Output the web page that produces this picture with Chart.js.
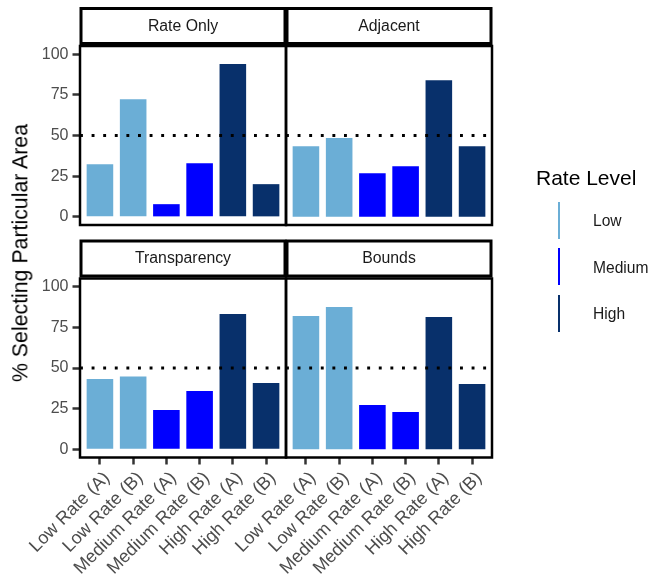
<!DOCTYPE html>
<html><head><meta charset="utf-8">
<script src="https://cdn.jsdelivr.net/npm/chart.js@4.4.0/dist/chart.umd.min.js"></script>
<style>
html,body{margin:0;padding:0;background:#fff;}
#wrap{position:relative;width:652px;height:584px;overflow:hidden;font-family:"Liberation Sans",Arial,sans-serif;}
canvas{position:absolute;left:0;top:0;}
#ytitle{position:absolute;left:21px;top:252.5px;transform:translate(-50%,-50%) rotate(-90deg);white-space:nowrap;font-size:21.3px;line-height:1;color:#000;}
.lg{position:absolute;white-space:nowrap;line-height:1;}
</style></head>
<body><div id="wrap">
<canvas id="c0" width="652" height="584"></canvas>
<canvas id="c1" width="652" height="584"></canvas>
<canvas id="c2" width="652" height="584"></canvas>
<canvas id="c3" width="652" height="584"></canvas>
<div id="ytitle">% Selecting Particular Area</div>
<div id="legend"></div>
</div>
<script>
const categories = ["Low Rate (A)","Low Rate (B)","Medium Rate (A)","Medium Rate (B)","High Rate (A)","High Rate (B)"];
const barLevels = ["Low","Low","Medium","Medium","High","High"];
const levels = ["Low","Medium","High"];
const levelColors = ["#6BAED6","#0000FF","#08306B"];
const panels = ["Rate Only","Adjacent","Transparency","Bounds"];
const rateOnly = [32.4,72.3,7.8,33.0,93.9,20.1];
const adjacent = [43.4,48.4,26.8,31.1,84.0,43.4];
const transparency = [43.2,44.7,24.2,35.9,83.2,40.8];
const bounds = [82.0,87.5,27.3,22.9,81.4,40.2];
const panelValues = [rateOnly, adjacent, transparency, bounds];
const yTicks = [0,25,50,75,100];
const refLine = 50;

const FONT = '"Liberation Sans", Arial, sans-serif';
const layouts = [
  {pad:{left:20, top:46, right:366, bottom:359}, showY:true, showX:false},
  {pad:{left:286, top:46, right:160, bottom:359}, showY:false, showX:false},
  {pad:{left:20, top:278.5, right:366, bottom:6.5}, showY:true, showX:true},
  {pad:{left:286, top:278.5, right:160, bottom:6.5}, showY:false, showX:true}
];

const decor = {
  id:'decor',
  afterDatasetsDraw(chart){
    const {ctx, chartArea:a, scales:{y}} = chart;
    const py = y.getPixelForValue(refLine);
    ctx.save();
    ctx.strokeStyle = '#000'; ctx.lineWidth = 2.9; ctx.setLineDash([2.9, 8.7]);
    ctx.beginPath(); ctx.moveTo(a.left, py); ctx.lineTo(a.right, py); ctx.stroke();
    ctx.restore();
  },
  afterDraw(chart, args, opts){
    const {ctx, chartArea:a} = chart;
    ctx.save();
    ctx.strokeStyle = '#000'; ctx.lineWidth = 2.5;
    ctx.strokeRect(a.left, a.top, a.right - a.left, a.bottom - a.top);
    const sx = a.left + 1, sw = a.right - a.left - 2, sy = a.top - 37.5, sh = 35;
    ctx.fillStyle = '#fff'; ctx.fillRect(sx, sy, sw, sh);
    ctx.lineWidth = 3; ctx.strokeRect(sx, sy, sw, sh);
    ctx.fillStyle = '#1A1A1A'; ctx.font = '15.8px ' + FONT;
    ctx.textAlign = 'center'; ctx.textBaseline = 'middle';
    ctx.fillText(opts.title, sx + sw/2, sy + sh/2 + 0.5);
    ctx.restore();
  }
};

panels.forEach((name, p) => {
  const L = layouts[p];
  const vals = panelValues[p];
  new Chart(document.getElementById('c' + p), {
    type:'bar',
    data:{datasets:[{
      data: vals.map((v,i)=>({x:i+1, y:v})),
      backgroundColor: barLevels.map(l => levelColors[levels.indexOf(l)]),
      borderWidth:0, barPercentage:1, categoryPercentage:0.8
    }]},
    options:{
      responsive:false, animation:false, events:[],
      layout:{padding:L.pad},
      plugins:{legend:{display:false}, tooltip:{enabled:false}, decor:{title:name}},
      scales:{
        x:{type:'linear', min:0.4, max:6.6, display:L.showX, offset:false,
          afterBuildTicks:s => { s.ticks = categories.map((c,i)=>({value:i+1})); },
          afterFit:s => { if (L.showX) s.height = 120; s.paddingLeft = 0; s.paddingRight = 0; },
          ticks:{autoSkip:false, minRotation:45, maxRotation:45, padding:3, labelOffset:7, color:'#4D4D4D',
            font:{family:FONT, size:18}, callback:v => categories[v-1]},
          grid:{offset:false, drawOnChartArea:false, drawTicks:true, tickLength:7, tickColor:'#333', tickWidth:2.5},
          border:{display:false}
        },
        y:{type:'linear', min:-5, max:105, display:L.showY,
          afterBuildTicks:s => { s.ticks = yTicks.map(v=>({value:v})); },
          afterFit:s => { if (L.showY) s.width = 60; s.paddingTop = 0; s.paddingBottom = 0; },
          ticks:{padding:4, color:'#4D4D4D', font:{family:FONT, size:16}},
          grid:{offset:false, drawOnChartArea:false, drawTicks:true, tickLength:7.5, tickColor:'#333', tickWidth:2.5},
          border:{display:false}
        }
      }
    },
    plugins:[decor]
  });
});

// legend built from the level arrays
const leg = document.getElementById('legend');
const title = document.createElement('div');
title.className = 'lg'; title.textContent = 'Rate Level';
title.style.cssText = 'left:536px;top:167.2px;font-size:21px;color:#000;';
leg.appendChild(title);
levels.forEach((l, i) => {
  const cy = 220.5 + i * 46.3;
  const key = document.createElement('div');
  key.style.cssText = `position:absolute;left:557.5px;top:${cy-18.5}px;width:2.7px;height:37px;background:${levelColors[i]};`;
  leg.appendChild(key);
  const lab = document.createElement('div');
  lab.className = 'lg'; lab.textContent = l;
  lab.style.cssText = `left:593px;top:${cy-7.3}px;font-size:15.6px;color:#1A1A1A;`;
  leg.appendChild(lab);
});
</script>
</body></html>
